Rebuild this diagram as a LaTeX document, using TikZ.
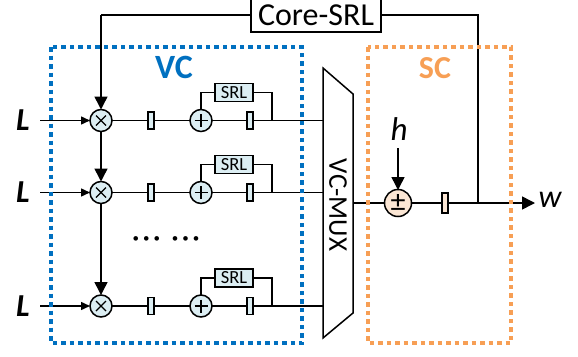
\documentclass[tikz,border=0pt]{standalone}
\usepackage{fontspec}
\setmainfont{Carlito}
\usetikzlibrary{arrows.meta,calc}
\definecolor{vcblue}{HTML}{0070C0}
\definecolor{scorange}{HTML}{F79F55}
\definecolor{cellblue}{HTML}{DCEEF3}
\definecolor{cellorange}{HTML}{FBE6D4}
\tikzset{
  x=1pt,y=-1pt,
  wire/.style={line width=1.5pt,draw=black},
  arrowwire/.style={wire,-{Triangle[length=13pt,width=13pt]}},
  smallarrow/.style={wire,-{Triangle[length=9pt,width=8pt]}},
  vcbox/.style={draw=vcblue,line width=3.3pt,dash pattern=on 4.5pt off 4pt},
  scbox/.style={draw=scorange,line width=3.3pt,dash pattern=on 4.5pt off 4pt},
  opcirc/.style={circle,draw,line width=1.5pt,fill=cellblue,minimum size=22pt,inner sep=0pt},
  mulop/.style={opcirc,path picture={\draw[line width=1.3pt]
     ($(path picture bounding box.center)+(-5,-5)$)--++(10,10)
     ($(path picture bounding box.center)+(5,-5)$)--++(-10,10);}},
  addop/.style={opcirc,path picture={\draw[line width=1.3pt]
     ($(path picture bounding box.center)+(-6.5,0)$)--++(13,0)
     ($(path picture bounding box.center)+(0,-6.5)$)--++(0,13);}},
  delaycell/.style={rectangle,draw,line width=1.3pt,fill=cellblue,minimum width=6pt,minimum height=17pt,inner sep=0pt},
  srlbox/.style={rectangle,draw,line width=1.5pt,fill=cellblue,minimum width=38pt,minimum height=18pt,inner sep=0pt,font=\fontsize{18.5}{18.5}\selectfont},
  inlabel/.style={font=\fontsize{32}{32}\selectfont\bfseries\itshape},
}
\begin{document}
\begin{tikzpicture}
\useasboundingbox (0,0) rectangle (578,356);
% positions
\coordinate (in1) at (40,120.5);
\coordinate (in2) at (40,192.5);
\coordinate (in3) at (40,306);
\coordinate (tl) at (101,15);
\coordinate (tr) at (478,15);
\coordinate (mx1) at (323,120.5);
\coordinate (mx2) at (323,192.5);
\coordinate (mx3) at (323,306);
\coordinate (mxo) at (353,203);
\coordinate (jn) at (478,203);
\coordinate (wend) at (535,203);
\coordinate (hend) at (398,148);
\coordinate (pmc) at (398,203);
\coordinate (gap) at (101,235);
\foreach \n/\y in {1/120.5,2/192.5,3/306}{
  \coordinate (m\n) at (101,\y);
  \coordinate (a\n) at (201,\y);
  \coordinate (d\n) at (151,\y);
  \coordinate (e\n) at (250,\y);
  \coordinate (t\n) at (272,\y);
  \coordinate (s\n) at (234,\y-28);
  \coordinate (lab\n) at (23,\y);
}
\node[draw,line width=1.5pt,fill=white,minimum width=130pt,minimum height=34pt,inner sep=0pt,font=\fontsize{32}{32}\selectfont] (core) at (316,15) {Core-SRL};
% wires
\draw[wire] (core.west) -- (tl);
\draw[wire] (core.east) -- (tr) -- (jn);
\foreach \n in {1,2,3}{
  \draw[wire] (m\n) -- (mx\n);
  \draw[wire] (a\n) |- (s\n) -| (t\n);
  \draw[smallarrow,shorten >=11pt] (in\n) -- (m\n);
}
\draw[arrowwire,shorten >=11pt] (tl) -- (m1);
\draw[arrowwire,shorten >=11pt] (m1) -- (m2);
\draw[wire] (m2) -- (gap);
\draw[arrowwire,shorten >=11pt] (gap) -- (m3);
\draw[wire] (mxo) -- (jn);
\draw[arrowwire] (jn) -- (wend);
\draw[arrowwire,shorten >=13pt] (hend) -- (pmc);
% group boxes
\draw[vcbox] (51,47) rectangle (302,343);
\draw[scbox] (368,47) rectangle (511,343);
\node[font=\fontsize{34}{34}\selectfont\bfseries,text=vcblue] (vc) at (174,67) {VC};
\node[font=\fontsize{32}{32}\selectfont\bfseries,text=scorange] (sc) at (435,68) {SC};
% cells
\foreach \n in {1,2,3}{
  \node[mulop] (mo\n) at (m\n) {};
  \node[delaycell] (dc\n) at (d\n) {};
  \node[addop] (ao\n) at (a\n) {};
  \node[delaycell] (ec\n) at (e\n) {};
  \node[srlbox] (sb\n) at (s\n) {SRL};
  \node[inlabel] (l\n) at (lab\n) {L};
}
% mux
\draw[line width=1.5pt,fill=white] (323,68) -- (353,94) -- (353,313) -- (323,338) -- cycle;
\node[rotate=-90,font=\fontsize{27}{27}\selectfont] (mux) at (338,205) {VC-MUX};
% sc
\node[circle,draw,line width=1.5pt,fill=cellorange,minimum size=27pt,inner sep=0pt,font=\fontsize{30}{30}\selectfont] (pm) at (pmc) {±};
\node[rectangle,draw,line width=1.3pt,fill=cellorange,minimum width=6pt,minimum height=20pt,inner sep=0pt] (dsc) at (445,203) {};
\node[font=\fontsize{33}{33}\selectfont\itshape] (h) at (399,129) {h};
\node[font=\fontsize{32}{32}\selectfont\itshape] (w) at (550,200) {w};
\node[font=\fontsize{13}{13}\selectfont,inner sep=0pt] (dots) at (166,240) {\textbullet\hspace{4pt}\textbullet\hspace{4pt}\textbullet\hspace{12pt}\textbullet\hspace{4pt}\textbullet\hspace{4pt}\textbullet};
\end{tikzpicture}
\end{document}
